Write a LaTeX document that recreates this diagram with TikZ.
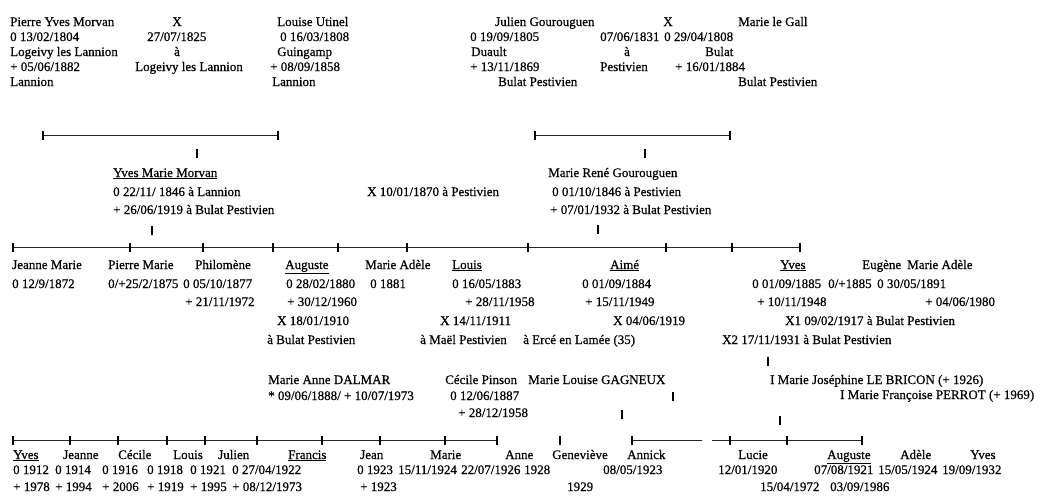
\documentclass[tikz,border=0pt]{standalone}
\usepackage{fontspec}
\setmainfont{Liberation Serif}
\newfontfamily\heavyfont{Liberation Serif}[FakeBold=0.6]
\newcommand\myfs{\heavyfont\fontsize{13}{15}\selectfont}
\begin{document}
\begin{tikzpicture}[x=1pt,y=-1pt,
  t/.style={anchor=base west, inner sep=0, font=\myfs},
  tc/.style={anchor=base, inner sep=0, font=\myfs},
  tk/.style={fill=black, minimum width=1.5pt, minimum height=9pt, inner sep=0},
  ln/.style={line width=0.7pt, black!85}]
\fill[white] (0,0) rectangle (1043,501);
\useasboundingbox (0,0) rectangle (1043,501);
% ---------- generation 1 ----------
\node[t] (a1) at (10,26) {Pierre Yves Morvan};
\node[t] (a2) at (10,41) {0 13/02/1804};
\node[t] (a3) at (10,56) {Logeivy les Lannion};
\node[t] (a4) at (10,71) {+ 05/06/1882};
\node[t] (a5) at (10,86) {Lannion};
\node[tc] (m1) at (177,26) {X};
\node[t] (m2) at (147,41) {27/07/1825};
\node[tc] (m3) at (177,56) {à};
\node[t] (m4) at (135,71) {Logeivy les Lannion};
\node[t] (b1) at (277,26) {Louise Utinel};
\node[t] (b2) at (280,41) {0 16/03/1808};
\node[t] (b3) at (277,56) {Guingamp};
\node[t] (b4) at (270,71) {+ 08/09/1858};
\node[t] (b5) at (272,86) {Lannion};
\node[t] (c1) at (495,26) {Julien Gourouguen};
\node[t] (c2) at (470,41) {0 19/09/1805};
\node[t] (c3) at (471,56) {Duault};
\node[t] (c4) at (470,71) {+ 13/11/1869};
\node[t] (c5) at (498,86) {Bulat Pestivien};
\node[tc] (n1) at (668,26) {X};
\node[t] (n2) at (600,41) {07/06/1831};
\node[tc] (n3) at (627,56) {à};
\node[t] (n4) at (600,71) {Pestivien};
\node[t] (d1) at (738,26) {Marie le Gall};
\node[t] (d2) at (664,41) {0 29/04/1808};
\node[t] (d3) at (705,56) {Bulat};
\node[t] (d4) at (675,71) {+ 16/01/1884};
\node[t] (d5) at (738,86) {Bulat Pestivien};
% brackets
\node[tk] (L1) at (43,135) {};
\node[tk] (L2) at (278,135) {};
\node[tk] (R1) at (535,135) {};
\node[tk] (R2) at (730,135) {};
\draw[ln] (L1) -- (L2);
\draw[ln] (R1) -- (R2);
\node[tk] (V1) at (197,153) {};
\node[tk] (V2) at (645,153) {};
% ---------- generation 2 ----------
\node[t] (e1) at (113,177) {\underline{Yves Marie Morvan}};
\node[t] (e2) at (113,196) {0 22/11/ 1846 à Lannion};
\node[t] (e3) at (113,214) {+ 26/06/1919 à Bulat Pestivien};
\node[tk] (V3) at (152,230) {};
\node[t] (x1) at (367,196) {X 10/01/1870 à Pestivien};
\node[t] (f1) at (548,177) {Marie René Gourouguen};
\node[t] (f2) at (552,196) {0 01/10/1846 à Pestivien};
\node[t] (f3) at (550,214) {+ 07/01/1932 à Bulat Pestivien};
\node[tk] (V4) at (598,229) {};
% sibling line
\foreach \i/\x in {0/13,1/130,2/203,3/273,4/338,5/407,6/528,7/666,8/732,9/800}
  \node[tk] (S\i) at (\x,247) {};
\draw[ln] (S0) -- (S1) (S1) -- (S2) (S2) -- (S3) (S3) -- (S4) (S4) -- (S5)
          (S5) -- (S6) (S6) -- (S7) (S7) -- (S8) (S8) -- (S9);
% ---------- generation 3 ----------
\node[t] (g1) at (12,269) {Jeanne Marie};
\node[t] (g2) at (12,288) {0 12/9/1872};
\node[t] (h1) at (108,269) {Pierre Marie};
\node[t] (h2) at (108,288) {0/+25/2/1875};
\node[t] (i1) at (195,269) {Philomène};
\node[t] (i2) at (183,288) {0 05/10/1877};
\node[t] (i3) at (185,306) {+ 21/11/1972};
\node[t] (j1) at (285,269) {\underline{Auguste}};
\node[t] (j2) at (286,288) {0 28/02/1880};
\node[t] (j3) at (287,306) {+ 30/12/1960};
\node[t] (j4) at (277,325) {X 18/01/1910};
\node[t] (j5) at (267,344) {à Bulat Pestivien};
\node[t] (k1) at (365,269) {Marie Adèle};
\node[t] (k2) at (370,288) {0 1881};
\node[t] (l1) at (452,269) {\underline{Louis}};
\node[t] (l2) at (452,288) {0 16/05/1883};
\node[t] (l3) at (465,306) {+ 28/11/1958};
\node[t] (l4) at (440,325) {X 14/11/1911};
\node[t] (l5) at (420,344) {à Maël Pestivien};
\node[t] (o5) at (523,344) {à Ercé en Lamée (35)};
\node[t] (p1) at (610,269) {\underline{Aimé}};
\node[t] (p2) at (582,288) {0 01/09/1884};
\node[t] (p3) at (585,306) {+ 15/11/1949};
\node[t] (p4) at (613,325) {X 04/06/1919};
\node[t] (q1) at (780,269) {\underline{Yves}};
\node[t] (q2) at (752,288) {0 01/09/1885};
\node[t] (q3) at (757,306) {+ 10/11/1948};
\node[t] (q4) at (785,325) {X1 09/02/1917 à Bulat Pestivien};
\node[t] (q5) at (722,344) {X2 17/11/1931 à Bulat Pestivien};
\node[t] (r1) at (862,269) {Eugène};
\node[t] (r2) at (828,288) {0/+1885};
\node[t] (s1) at (907,269) {Marie Adèle};
\node[t] (s2) at (877,288) {0 30/05/1891};
\node[t] (s3) at (925,306) {+ 04/06/1980};
\node[tk] (V5) at (768,361) {};
% spouses
\node[t] (u1) at (268,384) {Marie Anne DALMAR};
\node[t] (u2) at (268,400) {* 09/06/1888/ + 10/07/1973};
\node[t] (w1) at (445,384) {Cécile Pinson};
\node[t] (w2) at (450,400) {0 12/06/1887};
\node[t] (w3) at (458,417) {+ 28/12/1958};
\node[t] (y1) at (528,384) {Marie Louise GAGNEUX};
\node[tk] (V6) at (673,396) {};
\node[tk] (V7) at (622,414) {};
\node[t] (sp1) at (770,384) {I Marie Joséphine LE BRICON (+ 1926)};
\node[t] (sp2) at (840,399) {I Marie Françoise PERROT (+ 1969)};
\node[tk] (V8) at (780,420) {};
% grandchildren line A
\foreach \i/\x in {0/13,1/70,2/118,3/167,4/205,5/257,6/322,7/380,8/445,9/497}
  \node[tk] (G\i) at (\x,440) {};
\draw[ln] (G0) -- (G1) (G1) -- (G2) (G2) -- (G3) (G3) -- (G4) (G4) -- (G5)
          (G5) -- (G6) (G6) -- (G7) (G7) -- (G8) (G8) -- (G9);
\node[tk] (GV) at (560,440) {};
% grandchildren line B
\node[tk] (H0) at (632,440) {};
\coordinate (Hg1) at (702,440);
\coordinate (Hg2) at (712,440);
\node[tk] (H1) at (730,440) {};
\node[tk] (H2) at (787,440) {};
\node[tk] (H3) at (862,440) {};
\draw[ln] (H0) -- (Hg1);
\draw[ln] (Hg2) -- (H1);
\draw[ln] (H1) -- (H2) (H2) -- (H3);
% ---------- generation 4 ----------
\node[t] (z1) at (13,459) {\underline{Yves}};
\node[t] (z1b) at (13,474) {0 1912};
\node[t] (z1c) at (13,491) {+ 1978};
\node[t] (z2) at (63,459) {Jeanne};
\node[t] (z2b) at (55,474) {0 1914};
\node[t] (z2c) at (55,491) {+ 1994};
\node[t] (z3) at (118,459) {Cécile};
\node[t] (z3b) at (102,474) {0 1916};
\node[t] (z3c) at (102,491) {+ 2006};
\node[t] (z4) at (173,459) {Louis};
\node[t] (z4b) at (147,474) {0 1918};
\node[t] (z4c) at (147,491) {+ 1919};
\node[t] (z5) at (218,459) {Julien};
\node[t] (z5b) at (190,474) {0 1921};
\node[t] (z5c) at (190,491) {+ 1995};
\node[t] (z6) at (288,459) {\underline{Francis}};
\node[t] (z6b) at (232,474) {0 27/04/1922};
\node[t] (z6c) at (232,491) {+ 08/12/1973};
\node[t] (z7) at (360,459) {Jean};
\node[t] (z7b) at (357,474) {0 1923};
\node[t] (z7c) at (360,491) {+ 1923};
\node[t] (z8) at (430,459) {Marie};
\node[t] (z8b) at (398,474) {15/11/1924};
\node[t] (z9) at (505,459) {Anne};
\node[t] (z9b) at (461,474) {22/07/1926};
\node[t] (z10) at (552,459) {Geneviève};
\node[t] (z10b) at (524,474) {1928};
\node[t] (z10c) at (567,491) {1929};
\node[t] (z11) at (627,459) {Annick};
\node[t] (z11b) at (603,474) {08/05/1923};
\node[t] (z12) at (738,459) {Lucie};
\node[t] (z12b) at (718,474) {12/01/1920};
\node[t] (z12c) at (760,491) {15/04/1972};
\node[t] (z13) at (827,459) {\underline{Auguste}};
\node[t] (z13b) at (814,474) {07/08/1921};
\node[t] (z13c) at (830,491) {03/09/1986};
\node[t] (z14) at (900,459) {Adèle};
\node[t] (z14b) at (878,474) {15/05/1924};
\node[t] (z15) at (970,459) {Yves};
\node[t] (z15b) at (942,474) {19/09/1932};
\end{tikzpicture}
\end{document}
